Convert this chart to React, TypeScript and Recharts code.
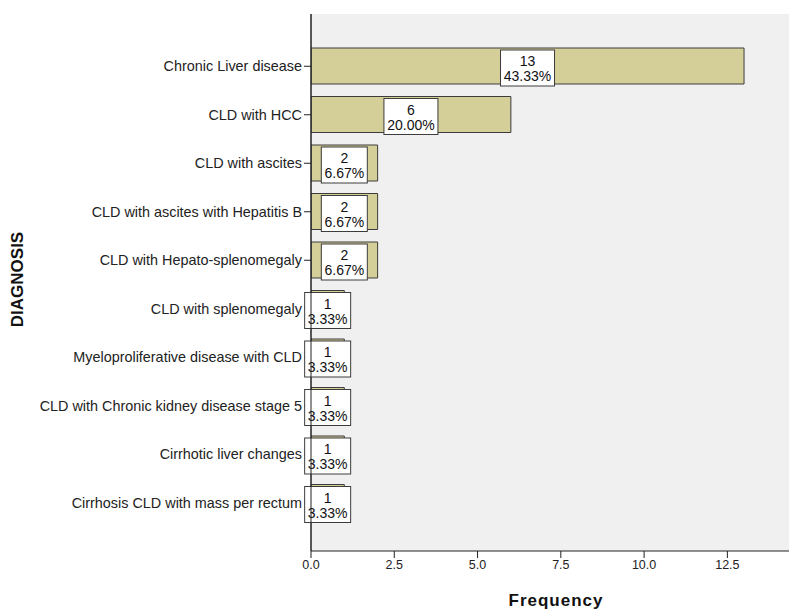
import { BarChart, Bar, XAxis, YAxis, CartesianGrid, LabelList, Label, ReferenceLine } from "recharts";

// diagnosis categories, top to bottom
const categories = [
  "Chronic Liver disease",
  "CLD with HCC",
  "CLD with ascites",
  "CLD with ascites with Hepatitis B",
  "CLD with Hepato-splenomegaly",
  "CLD with splenomegaly",
  "Myeloproliferative disease with CLD",
  "CLD with Chronic kidney disease stage 5",
  "Cirrhotic liver changes",
  "Cirrhosis CLD with mass per rectum",
];
const counts = [13, 6, 2, 2, 2, 1, 1, 1, 1, 1];
const xTicks = [0, 2.5, 5, 7.5, 10, 12.5];
const xDomain = [0, 14.35];

const total = counts.reduce((a, b) => a + b, 0);
const data = categories.map((name, i) => ({ name, count: counts[i] }));

const FONT = "'Liberation Sans', Arial, sans-serif";

// white box with count and percent, centred on the bar
function BoxLabel(props: any) {
  const x = Number(props.x);
  const y = Number(props.y);
  const width = Number(props.width);
  const height = Number(props.height);
  const value = Number(props.value);
  const pct = `${((value / total) * 100).toFixed(2)}%`;
  const cx = x + width / 2;
  const cy = y + height / 2 + 2;
  const bw = pct.length * 8 + 6;
  const bh = 36;
  return (
    <g>
      <rect x={cx - bw / 2} y={cy - bh / 2} width={bw} height={bh} fill="#ffffff" stroke="#3c3c3c" />
      <text x={cx} y={cy - 7} textAnchor="middle" dominantBaseline="central" fontSize={14} fill="#111" fontFamily={FONT}>
        {value}
      </text>
      <text x={cx} y={cy + 8} textAnchor="middle" dominantBaseline="central" fontSize={14} fill="#111" fontFamily={FONT}>
        {pct}
      </text>
    </g>
  );
}

export default function App() {
  return (
    <div style={{ position: "absolute", left: 0, top: 0, width: 789, height: 610, background: "#fff" }}>
      <BarChart
        width={789}
        height={610}
        data={data}
        layout="vertical"
        margin={{ top: 14, right: 0, bottom: 0, left: 0 }}
      >
        <CartesianGrid fill="#f0f0f0" horizontal={false} vertical={false} />
        <XAxis
          type="number"
          domain={xDomain}
          ticks={xTicks}
          allowDataOverflow
          tickFormatter={(v: number) => v.toFixed(1)}
          height={59}
          axisLine={{ stroke: "#222" }}
          tickLine={{ stroke: "#222" }}
          tickSize={7}
          tick={{ fill: "#222", fontSize: 12.5, fontFamily: FONT }}
        >
          <Label
            content={(p: any) => {
              const vb = p.viewBox || {};
              return (
                <text
                  x={vb.x + vb.width / 2 + 6}
                  y={600}
                  textAnchor="middle"
                  dominantBaseline="central"
                  fontSize={17}
                  fontWeight="bold"
                  letterSpacing={1}
                  fill="#111"
                  fontFamily={FONT}
                >
                  Frequency
                </text>
              );
            }}
          />
        </XAxis>
        <XAxis
          xAxisId="top"
          orientation="top"
          type="number"
          domain={xDomain}
          allowDataOverflow
          height={0}
          tick={false}
          tickLine={false}
          axisLine={{ stroke: "#777" }}
        />
        <YAxis
          type="category"
          dataKey="name"
          width={311}
          padding={{ top: 28, bottom: 24 }}
          axisLine={{ stroke: "#222" }}
          tickLine={{ stroke: "#222" }}
          tickSize={7}
          tick={{ fill: "#222", fontSize: 14.4, fontFamily: FONT }}
          interval={0}
        >
          <Label
            content={(p: any) => {
              const vb = p.viewBox || {};
              const cy = vb.y + vb.height / 2 - 3;
              return (
                <text
                  x={17.5}
                  y={cy}
                  transform={`rotate(-90, 17.5, ${cy})`}
                  textAnchor="middle"
                  dominantBaseline="central"
                  fontSize={17}
                  fontWeight="bold"
                  fill="#111"
                  fontFamily={FONT}
                >
                  DIAGNOSIS
                </text>
              );
            }}
          />
        </YAxis>
        <Bar dataKey="count" barSize={36} fill="#d4cf98" stroke="#3c3c3c" strokeWidth={1} isAnimationActive={false}>
          <LabelList dataKey="count" content={<BoxLabel />} />
        </Bar>
        <ReferenceLine x={0} stroke="#222" zIndex={2500} />
      </BarChart>
    </div>
  );
}
